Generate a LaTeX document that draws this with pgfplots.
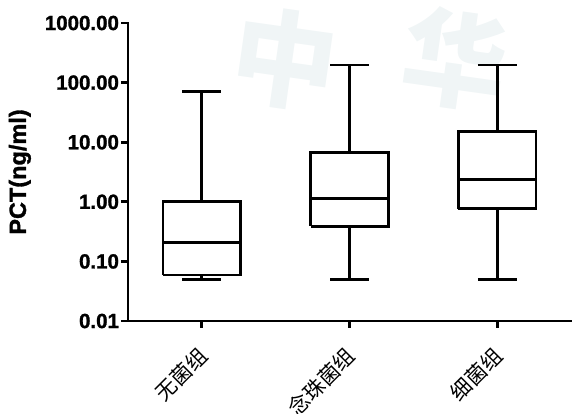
\documentclass[border=0pt]{standalone}
\usepackage{pgfplots}
\pgfplotsset{compat=1.18}
\usepackage{fontspec}
\setmainfont{Liberation Sans}
\newfontfamily\heavy[FakeBold=1.3]{Liberation Sans Bold}
\newfontfamily\cjk{Noto Sans CJK SC}
\definecolor{wm}{HTML}{F0F5F6}
% box data: position, lower whisker, Q1, median, Q3, upper whisker
% 1: 0.05 0.059 0.21 1.0 70
% 2: 0.05 0.386 1.15 6.7 197
% 3: 0.05 0.77 2.4 15.1 197
\begin{document}
\begin{tikzpicture}
\useasboundingbox (-128pt,-92pt) rectangle (444pt,321pt);
\node[text=wm, rotate=-8] at (157pt,262pt) {\cjk\bfseries\fontsize{105}{105}\selectfont 中};
\node[text=wm, rotate=-8] at (327pt,262pt) {\cjk\bfseries\fontsize{105}{105}\selectfont 华};
\begin{axis}[
  at={(0,0)}, anchor=south west,
  scale only axis, width=443pt, height=298pt,
  ymode=log, ymin=0.01, ymax=1000,
  xmin=0.5, xmax=3.5,
  axis x line*=bottom, axis y line*=left,
  axis line style={line width=2.9pt, line cap=rect},
  every tick/.style={black, line width=2.7pt},
  tick align=outside, major tick length=6.5pt,
  yminorticks=false, xminorticks=false,
  ytick={0.01,0.1,1,10,100,1000},
  yticklabels={0.01,0.10,1.00,10.00,100.00,1000.00},
  yticklabel style={font=\heavy\fontsize{20.5}{20.5}\selectfont, xshift=1pt},
  xtick={1,2,3},
  xticklabels={无菌组,念珠菌组,细菌组},
  xticklabel style={font=\cjk\fontsize{21}{21}\selectfont, xshift=4pt, yshift=-22pt, rotate=45, anchor=east},
  ylabel={PCT(ng/ml)},
  every axis y label/.style={at={(axis description cs:-0.244,0.5)}, anchor=center, rotate=90, font=\heavy\fontsize{23.5}{23.5}\selectfont},
  clip=false,
  bx/.style={black, solid, line width=2.8pt, mark=none},
]
% box 1
\addplot[bx] coordinates {(0.7375,0.059) (1.2625,0.059) (1.2625,1.0) (0.7375,1.0) (0.7375,0.059)};
\addplot[bx] coordinates {(0.7375,0.21) (1.2625,0.21)};
\addplot[bx] coordinates {(1,1.0) (1,70)};
\addplot[bx] coordinates {(0.869,70) (1.131,70)};
\addplot[bx] coordinates {(1,0.059) (1,0.05)};
\addplot[bx] coordinates {(0.869,0.05) (1.131,0.05)};
% box 2
\addplot[bx] coordinates {(1.7375,0.386) (2.2625,0.386) (2.2625,6.7) (1.7375,6.7) (1.7375,0.386)};
\addplot[bx] coordinates {(1.7375,1.15) (2.2625,1.15)};
\addplot[bx] coordinates {(2,6.7) (2,197)};
\addplot[bx] coordinates {(1.869,197) (2.131,197)};
\addplot[bx] coordinates {(2,0.386) (2,0.05)};
\addplot[bx] coordinates {(1.869,0.05) (2.131,0.05)};
% box 3
\addplot[bx] coordinates {(2.7375,0.77) (3.2625,0.77) (3.2625,15.1) (2.7375,15.1) (2.7375,0.77)};
\addplot[bx] coordinates {(2.7375,2.4) (3.2625,2.4)};
\addplot[bx] coordinates {(3,15.1) (3,197)};
\addplot[bx] coordinates {(2.869,197) (3.131,197)};
\addplot[bx] coordinates {(3,0.77) (3,0.05)};
\addplot[bx] coordinates {(2.869,0.05) (3.131,0.05)};
\end{axis}
\end{tikzpicture}
\end{document}
